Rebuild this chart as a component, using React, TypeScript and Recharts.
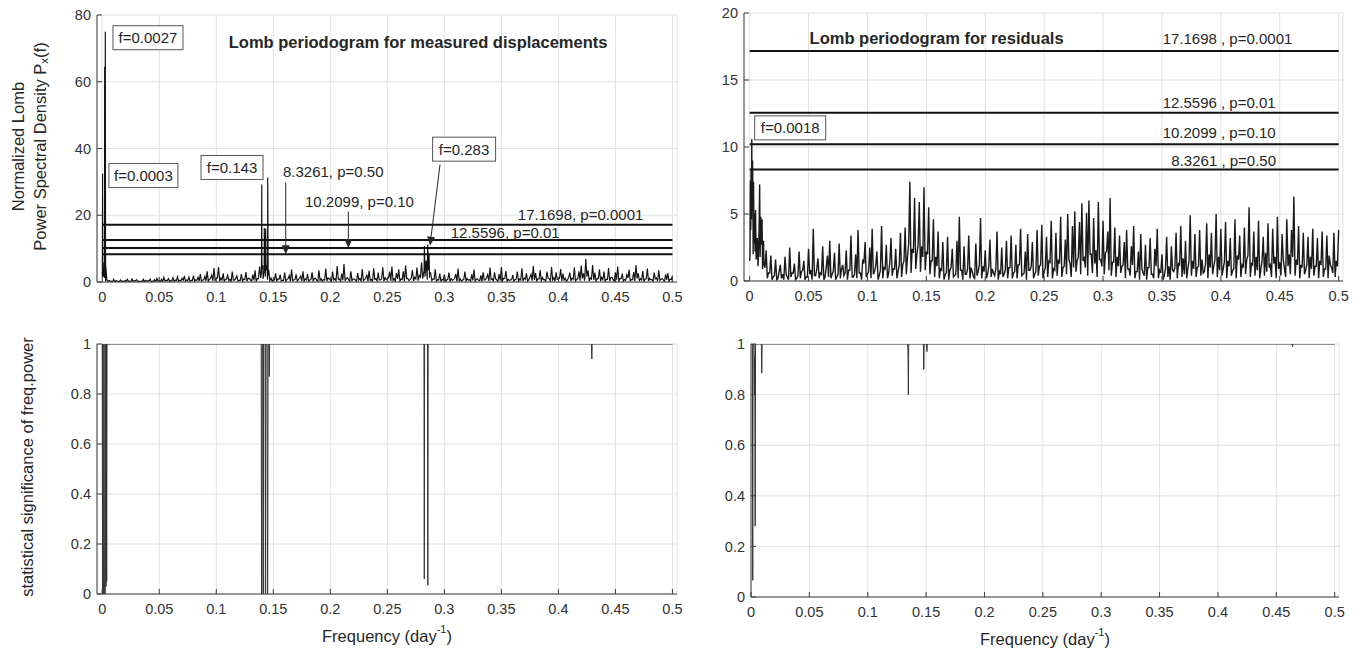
import React from 'react';
import { LineChart, Line, XAxis, YAxis, CartesianGrid, ReferenceLine, ReferenceDot } from 'recharts';

const FONT = '"Liberation Sans", Arial, Helvetica, sans-serif';
const AXIS_COLOR = '#3d3d3d';
const GRID_COLOR = '#e2e2e2';
const TEXT_COLOR = '#262626';

// ---------- axis ticks ----------
const freqTicks = [0, 0.05, 0.1, 0.15, 0.2, 0.25, 0.3, 0.35, 0.4, 0.45, 0.5];
const powerTicksMeasured = [0, 20, 40, 60, 80];
const powerTicksResidual = [0, 5, 10, 15, 20];
const sigTicks = [0, 0.2, 0.4, 0.6, 0.8, 1];

// ---------- spectra: values on grid f = 0.002*i, and midpoints f = 0.001 + 0.002*i ----------
const GRID_STEP = 0.002;
const measuredNoise = [
  3.0, 1.2, 0.7, 0.5, 0.3, 0.8, 0.4, 0.2, 0.6, 0.3,
  0.5, 0.8, 0.3, 0.9, 0.4, 0.7, 0.3, 0.2, 0.8, 0.5,
  0.4, 0.9, 0.3, 0.7, 1.1, 0.4, 0.8, 1.4, 0.5, 1.0,
  0.4, 1.3, 0.6, 1.6, 0.5, 1.1, 1.8, 0.6, 1.5, 0.5,
  1.9, 0.7, 1.4, 2.4, 0.6, 1.7, 3.2, 0.8, 2.1, 4.2,
  0.9, 4.5, 1.2, 2.6, 0.7, 2.0, 0.8, 3.1, 0.6, 1.9,
  0.5, 2.4, 0.9, 3.0, 1.1, 0.6, 2.2, 3.5, 1.0, 4.6,
  5.5, 2.8, 4.9, 3.6, 1.2, 0.7, 2.6, 0.9, 2.2, 0.5,
  2.8, 0.8, 1.9, 3.7, 0.6, 2.3, 0.7, 1.8, 3.2, 0.9,
  2.4, 0.6, 2.9, 1.1, 0.5, 3.5, 1.0, 0.7, 4.0, 1.2,
  0.8, 3.1, 1.0, 4.8, 0.9, 2.5, 5.4, 1.1, 0.7, 3.2,
  0.9, 0.6, 2.7, 1.0, 3.9, 0.7, 2.2, 3.4, 0.8, 4.1,
  1.0, 2.8, 0.6, 4.4, 1.3, 0.8, 3.1, 4.6, 1.0, 2.7,
  3.8, 0.9, 3.2, 4.9, 1.1, 0.7, 3.6, 1.4, 4.3, 2.0,
  5.9, 3.0, 6.4, 4.1, 2.7, 0.9, 3.8, 0.7, 2.5, 0.8,
  2.2, 0.6, 2.8, 1.0, 0.7, 2.4, 4.0, 0.9, 0.6, 3.1,
  1.1, 0.7, 2.3, 3.7, 0.8, 0.5, 2.0, 2.9, 0.7, 2.2,
  4.3, 1.0, 2.9, 0.6, 2.4, 4.5, 1.1, 3.3, 0.8, 0.6,
  2.1, 0.7, 3.1, 0.9, 4.1, 1.2, 2.6, 0.7, 2.3, 4.8,
  2.7, 1.0, 3.6, 1.4, 0.7, 3.1, 1.0, 4.5, 1.3, 2.9,
  0.8, 3.9, 2.5, 1.1, 0.6, 2.8, 1.2, 4.3, 0.9, 3.2,
  4.9, 2.6, 6.9, 3.5, 1.2, 5.1, 2.8, 1.0, 3.8, 1.4,
  3.1, 0.8, 4.2, 1.3, 0.7, 2.9, 4.6, 1.0, 2.5, 0.8,
  2.2, 3.7, 0.7, 3.0, 5.1, 2.6, 1.0, 3.3, 0.9, 4.0,
  1.1, 0.7, 2.8, 1.2, 3.5, 0.8, 0.6, 2.3, 2.7, 0.9,
  1.9,
];
const measuredMid = [
  2.0, 0.2, 0.1, 0.2, 0.1, 0.1, 0.3, 0.1, 0.2, 0.1,
  0.1, 0.2, 0.1, 0.2, 0.3, 0.1, 0.1, 0.2, 0.1, 0.2,
  0.3, 0.1, 0.2, 0.1, 0.3, 0.2, 0.1, 0.3, 0.4, 0.2,
  0.3, 0.1, 0.4, 0.2, 0.3, 0.5, 0.2, 0.4, 0.2, 0.5,
  0.2, 0.5, 0.3, 0.2, 0.6, 0.3, 0.2, 1.1, 0.3, 0.5,
  1.3, 0.2, 0.6, 0.2, 0.9, 0.4, 0.2, 0.5, 1.0, 0.3,
  0.5, 0.2, 0.7, 0.2, 1.1, 0.3, 0.5, 0.2, 1.0, 1.2,
  0.9, 1.6, 0.7, 0.4, 0.2, 0.6, 0.2, 0.8, 0.3, 0.5,
  0.2, 1.0, 0.2, 0.4, 0.7, 0.2, 1.2, 0.3, 0.2, 0.6,
  0.2, 0.7, 0.3, 1.1, 0.2, 0.5, 0.2, 0.6, 0.3, 0.9,
  0.2, 0.6, 0.3, 0.8, 0.2, 0.5, 0.3, 1.3, 0.2, 0.4,
  0.9, 0.2, 0.6, 0.3, 0.4, 1.1, 0.2, 0.5, 0.2, 0.8,
  0.3, 0.6, 1.0, 0.2, 0.7, 1.3, 0.3, 0.5, 0.2, 0.9,
  0.3, 0.7, 0.2, 1.0, 0.4, 1.2, 0.3, 0.9, 0.4, 1.5,
  1.0, 1.6, 0.7, 1.3, 0.4, 0.8, 0.2, 0.6, 0.2, 0.6,
  0.3, 0.8, 0.2, 0.5, 1.1, 0.2, 0.4, 0.2, 0.7, 0.3,
  0.6, 0.2, 0.5, 0.2, 1.0, 0.4, 0.2, 0.6, 1.3, 0.3,
  0.7, 0.3, 0.9, 0.2, 0.5, 0.4, 1.1, 0.2, 0.5, 0.7,
  0.2, 0.9, 0.2, 0.6, 0.3, 0.8, 0.2, 1.4, 0.4, 0.6,
  0.3, 0.9, 0.2, 0.7, 0.2, 1.1, 0.3, 0.6, 0.2, 0.8,
  1.2, 0.3, 0.6, 0.2, 1.4, 0.3, 0.8, 0.2, 0.9, 0.4,
  1.1, 0.4, 1.6, 0.3, 0.9, 0.6, 0.2, 1.0, 0.3, 0.7,
  0.2, 0.8, 0.3, 1.3, 0.2, 0.7, 0.3, 1.0, 0.2, 0.5,
  1.2, 0.3, 0.7, 0.2, 1.1, 0.4, 0.6, 0.2, 0.9, 0.3,
  0.7, 0.2, 0.9, 0.3, 0.5, 1.0, 0.2, 0.6, 0.2, 0.7,
];
const measuredPeakFreq = [
  0.0001, 0.0003, 0.0005, 0.0009, 0.0013, 0.0017, 0.0021, 0.0023, 0.0025, 0.0027, 0.0029, 0.0032, 0.0036,
  0.1396, 0.1399, 0.1402, 0.1408, 0.1418, 0.1421, 0.1425, 0.1430, 0.1433, 0.1437, 0.1445, 0.1451, 0.1455,
  0.2822, 0.2825, 0.2829, 0.2850, 0.2855, 0.2859, 0.2866, 0.2870,
];
const measuredPeakPower = [
  1.5, 32.5, 2.0, 3.5, 1.8, 6.0, 64.5, 8.0, 30.0, 75.0, 12.0, 4.5, 2.5,
  3.0, 29.2, 4.0, 5.0, 3.2, 16.2, 5.5, 4.0, 16.0, 3.5, 4.2, 31.3, 2.0,
  3.0, 10.8, 4.0, 5.0, 11.2, 3.5, 8.5, 3.0,
];

const residualNoise = [
  1.5, 6.5, 3.5, 2.5, 3.8, 2.7, 1.4, 2.3, 0.6, 1.9,
  0.3, 1.6, 0.2, 1.2, 0.5, 1.8, 0.3, 2.5, 0.6, 1.3,
  0.2, 2.2, 0.7, 1.5, 0.3, 2.4, 0.8, 3.9, 0.4, 1.7,
  0.6, 2.6, 0.3, 1.9, 3.0, 0.5, 2.1, 0.3, 2.8, 0.9,
  0.4, 2.3, 0.8, 3.4, 0.3, 2.0, 3.8, 0.6, 1.6, 2.9,
  0.5, 2.5, 3.9, 0.7, 2.2, 0.4, 4.1, 1.0, 2.7, 0.6,
  3.2, 0.9, 2.4, 0.7, 3.6, 1.2, 4.0, 1.8, 7.4, 2.4,
  6.2, 2.0, 5.9, 2.6, 7.0, 2.2, 5.5, 1.5, 4.6, 1.8,
  3.7, 0.9, 2.9, 0.5, 3.3, 0.8, 2.4, 0.4, 3.0, 4.8,
  0.8, 2.6, 0.5, 3.4, 1.0, 0.3, 2.8, 0.7, 4.7, 1.1,
  2.3, 0.5, 3.1, 0.9, 0.4, 3.7, 0.7, 2.5, 0.5, 3.0,
  1.0, 3.4, 0.6, 2.7, 1.2, 3.9, 0.5, 2.2, 3.5, 0.8,
  2.9, 0.5, 3.8, 1.1, 4.2, 0.7, 3.3, 1.5, 4.5, 0.9,
  3.6, 1.6, 4.8, 1.0, 3.1, 5.0, 1.3, 4.1, 5.2, 1.5,
  4.4, 5.8, 1.7, 5.1, 6.0, 2.0, 4.7, 2.3, 5.9, 1.6,
  4.5, 2.1, 3.7, 6.2, 1.4, 4.0, 1.8, 3.4, 1.1, 2.9,
  3.8, 0.9, 2.6, 4.1, 0.7, 2.2, 3.5, 0.6, 2.7, 1.0,
  3.2, 0.5, 2.4, 3.9, 0.8, 2.0, 0.4, 3.3, 1.1, 2.6,
  0.7, 3.6, 1.3, 4.1, 1.7, 3.0, 0.9, 4.9, 1.5, 3.5,
  1.0, 3.8, 1.6, 0.7, 4.3, 2.0, 3.6, 1.1, 5.0, 1.8,
  3.9, 0.9, 4.4, 1.5, 3.2, 0.8, 4.6, 1.9, 3.4, 1.2,
  4.0, 1.6, 5.5, 1.3, 3.7, 1.8, 4.5, 0.9, 3.3, 2.1,
  4.3, 1.2, 3.9, 1.8, 4.8, 1.4, 3.5, 0.9, 4.6, 2.0,
  3.8, 6.3, 1.6, 4.1, 1.2, 3.6, 0.8, 3.3, 1.8, 3.9,
  1.1, 3.2, 1.5, 3.7, 0.9, 3.4, 1.9, 1.0, 3.6, 1.5,
  3.8,
];
const residualMid = [
  4.2, 2.0, 5.3, 1.5, 3.1, 0.9, 1.0, 0.2, 0.6, 0.1,
  0.4, 0.1, 0.7, 0.2, 0.1, 0.5, 0.1, 0.3, 0.6, 0.1,
  0.4, 0.2, 0.8, 0.1, 0.3, 0.5, 0.1, 0.4, 0.9, 0.2,
  0.5, 0.1, 1.0, 0.3, 0.2, 0.7, 0.1, 0.5, 0.2, 1.2,
  0.6, 0.1, 0.8, 0.3, 0.5, 0.2, 0.6, 0.1, 1.3, 0.3,
  0.7, 0.2, 0.5, 1.1, 0.1, 0.8, 0.2, 0.9, 0.2, 1.4,
  0.4, 0.9, 0.2, 1.2, 0.3, 1.5, 0.5, 2.8, 0.6, 2.1,
  0.9, 2.7, 0.7, 1.8, 0.8, 2.0, 0.5, 1.5, 0.3, 1.1,
  0.2, 0.8, 0.1, 0.6, 0.1, 1.0, 0.3, 0.5, 0.2, 0.8,
  0.1, 0.5, 0.9, 0.2, 0.7, 0.2, 0.4, 1.2, 0.2, 0.7,
  0.2, 1.1, 0.3, 0.6, 0.9, 0.1, 0.5, 0.3, 0.8, 0.2,
  1.0, 0.2, 0.7, 0.2, 1.2, 0.4, 0.6, 0.1, 0.8, 1.1,
  0.2, 0.7, 0.4, 1.2, 0.2, 1.0, 0.3, 1.4, 0.2, 0.8,
  0.4, 1.3, 0.3, 1.1, 0.5, 1.6, 0.3, 1.0, 0.7, 1.8,
  0.5, 1.5, 1.0, 0.4, 2.0, 0.6, 1.3, 0.3, 1.6, 1.1,
  0.5, 2.2, 0.8, 0.4, 1.4, 0.3, 1.1, 0.6, 1.2, 0.2,
  0.9, 0.4, 1.2, 0.2, 0.7, 0.1, 0.9, 0.4, 0.1, 1.0,
  0.5, 0.2, 1.1, 0.2, 0.6, 0.1, 0.9, 0.3, 0.1, 0.8,
  1.0, 0.2, 1.2, 0.3, 0.5, 0.2, 1.5, 0.4, 0.9, 0.3,
  1.1, 0.4, 0.6, 1.3, 0.2, 1.0, 0.5, 1.6, 0.3, 0.8,
  0.4, 1.4, 0.2, 1.1, 0.4, 0.9, 0.2, 1.6, 0.3, 1.0,
  0.5, 1.9, 0.3, 1.2, 0.4, 0.8, 0.2, 1.5, 0.4, 0.7,
  1.0, 0.3, 1.3, 0.2, 0.9, 0.4, 1.6, 0.3, 1.1, 0.5,
  1.8, 0.4, 1.2, 0.2, 1.0, 0.5, 1.2, 0.2, 0.9, 0.4,
  1.1, 0.2, 1.2, 0.3, 0.9, 0.2, 1.2, 0.6, 0.3, 1.1,
];
const residualPeakFreq = [
  0.0003, 0.0006, 0.0009, 0.0012, 0.0015, 0.0018, 0.0021, 0.0025, 0.0029, 0.0033, 0.0037, 0.0042,
  0.0046, 0.0051, 0.0055, 0.0065, 0.0071, 0.0077, 0.0085, 0.0089, 0.0095, 0.0105, 0.0112, 0.0118,
];
const residualPeakPower = [
  2.0, 7.5, 3.8, 8.3, 4.6, 10.6, 5.2, 9.0, 3.9, 7.4, 2.8, 5.0,
  2.2, 4.4, 1.6, 3.2, 1.1, 2.6, 7.2, 1.8, 4.8, 4.6, 1.2, 3.0,
];

// ---------- false-alarm thresholds ----------
const thresholdPower = [17.1698, 12.5596, 10.2099, 8.3261];
const thresholdProb = ['0.0001', '0.01', '0.10', '0.50'];

// ---------- statistical significance ----------
const sigMeasuredFreq = [
  0, 0.0003, 0.0006, 0.0009, 0.0013, 0.0016, 0.0019, 0.0023, 0.0027, 0.003, 0.0033, 0.0036, 0.0039, 0.0042,
  0.1394, 0.1397, 0.14, 0.1403, 0.1409, 0.1412, 0.1415, 0.1428, 0.1431, 0.1434, 0.1445, 0.1448, 0.1451, 0.1454,
  0.1462, 0.1465, 0.1468, 0.2821, 0.2824, 0.2827, 0.2852, 0.2855, 0.2858, 0.429, 0.4293, 0.4296, 0.5,
];
const sigMeasuredValue = [
  1, 0, 1, 0, 0, 1, 0, 0, 0, 1, 0.03, 1, 0.05, 1,
  1, 0, 0, 1, 1, 0, 1, 1, 0, 1, 1, 0, 0, 1,
  1, 0.87, 1, 1, 0.06, 1, 1, 0.035, 1, 1, 0.94, 1, 1,
];
const sigResidualFreq = [
  0, 0.0012, 0.0015, 0.0018, 0.0027, 0.003, 0.0033, 0.0036, 0.0039, 0.0089, 0.0092, 0.0095,
  0.1342, 0.1345, 0.1348, 0.1351, 0.1477, 0.148, 0.1483, 0.1504, 0.1507, 0.151, 0.4636, 0.4639, 0.4642, 0.5,
];
const sigResidualValue = [
  1, 1, 0.066, 1, 1, 0.8, 0.95, 0.28, 1, 1, 0.885, 1,
  1, 0.96, 0.8, 1, 1, 0.9, 1, 1, 0.97, 1, 1, 0.99, 1, 1,
];

// ---------- build chart tables ----------
function buildSpectrum(grid: number[], mid: number[], pf: number[], pv: number[]) {
  const pts = grid.map((p, i) => ({ f: Math.round(i * GRID_STEP * 10000) / 10000, p }));
  mid.forEach((p, i) => pts.push({ f: Math.round((i * GRID_STEP + GRID_STEP / 2) * 10000) / 10000, p }));
  pf.forEach((f, i) => pts.push({ f, p: pv[i] }));
  pts.sort((a, b) => a.f - b.f);
  return pts;
}
function buildPairs(fs: number[], vs: number[]) {
  return fs.map((f, i) => ({ f, s: vs[i] }));
}
const measuredData = buildSpectrum(measuredNoise, measuredMid, measuredPeakFreq, measuredPeakPower);
const residualData = buildSpectrum(residualNoise, residualMid, residualPeakFreq, residualPeakPower);
const sigMeasuredData = buildPairs(sigMeasuredFreq, sigMeasuredValue);
const sigResidualData = buildPairs(sigResidualFreq, sigResidualValue);

// ---------- annotations (data coordinates) ----------
const measuredBoxes = [
  { f: 0.0401, v: 73.2, text: 'f=0.0027', w: 70 },
  { f: 0.0361, v: 31.9, text: 'f=0.0003', w: 69 },
  { f: 0.1138, v: 34.3, text: 'f=0.143', w: 62 },
  { f: 0.3173, v: 39.8, text: 'f=0.283', w: 63 },
];
const measuredTextPos = [
  { f: 0.3644, v: 20.2 },
  { f: 0.3056, v: 14.8 },
  { f: 0.1778, v: 24.1 },
  { f: 0.1585, v: 33.1 },
];
const measuredArrows = [
  { f1: 0.1609, v1: 29.8, f2: 0.1609, v2: 8.33 },
  { f1: 0.2158, v1: 21.1, f2: 0.2158, v2: 10.21 },
  { f1: 0.2962, v1: 35.2, f2: 0.2874, v2: 10.9 },
];
const residualTextPos = [
  { f: 0.3506, v: 18.09 },
  { f: 0.3506, v: 13.35 },
  { f: 0.3506, v: 11.05 },
  { f: 0.358, v: 9.02 },
];
const residualBoxes = [{ f: 0.0344, v: 11.43, text: 'f=0.0018', w: 71 }];

// ---------- shapes ----------
const tickStyle = { fill: '#333', fontSize: 14.5, fontFamily: FONT };

const makeText = (text: string, anchor: 'start' | 'middle' | 'end', bold = false, size = 15) =>
  (props: any) => (
    <text x={props.cx} y={props.cy} textAnchor={anchor} dominantBaseline="central"
      fontFamily={FONT} fontSize={size} fontWeight={bold ? 'bold' : 'normal'} fill={TEXT_COLOR}>
      {text}
    </text>
  );

const makeBox = (text: string, w: number) => (props: any) => (
  <g>
    <rect x={props.cx - w / 2} y={props.cy - 12} width={w} height={24} fill="#fff" stroke="#555" strokeWidth={1} />
    <text x={props.cx} y={props.cy} textAnchor="middle" dominantBaseline="central"
      fontFamily={FONT} fontSize={15} fill={TEXT_COLOR}>{text}</text>
  </g>
);

const ArrowShape = (props: any) => {
  const { x1, y1, x2, y2 } = props;
  const ang = Math.atan2(y2 - y1, x2 - x1);
  const len = 9;
  const half = 4;
  const bx = x2 - len * Math.cos(ang);
  const by = y2 - len * Math.sin(ang);
  const px = -Math.sin(ang) * half;
  const py = Math.cos(ang) * half;
  return (
    <g>
      <line x1={x1} y1={y1} x2={bx} y2={by} stroke={TEXT_COLOR} strokeWidth={1} />
      <polygon points={`${x2},${y2} ${bx + px},${by + py} ${bx - px},${by - py}`} fill={TEXT_COLOR} />
    </g>
  );
};

const MeasuredYLabel = (props: any) => {
  const vb = props.viewBox || { x: 0, y: 15, width: 97, height: 267 };
  const cy = vb.y + vb.height / 2 - 2;
  return (
    <g fontFamily={FONT} fontSize={16.5} fill={TEXT_COLOR}>
      <text transform={`translate(${vb.x + 18}, ${cy}) rotate(-90)`} textAnchor="middle" dominantBaseline="central">
        Normalized Lomb
      </text>
      <text transform={`translate(${vb.x + 40}, ${cy}) rotate(-90)`} textAnchor="middle" dominantBaseline="central">
        Power Spectral Density P<tspan dy={4} fontSize={11.5}>x</tspan><tspan dy={-4}>(f)</tspan>
      </text>
    </g>
  );
};

const SigYLabel = (props: any) => {
  const vb = props.viewBox || { x: 0, y: 344, width: 97, height: 250 };
  const cy = vb.y + vb.height / 2 - 2;
  return (
    <text transform={`translate(${vb.x + 27}, ${cy}) rotate(-90)`} textAnchor="middle" dominantBaseline="central"
      fontFamily={FONT} fontSize={16.5} fill={TEXT_COLOR}>
      statistical significance of freq.power
    </text>
  );
};

const FreqLabel = (props: any) => {
  const vb = props.viewBox || { x: 0, y: 0, width: 0, height: 0 };
  const cx = vb.x + vb.width / 2;
  return (
    <text x={cx} y={vb.y + 42} textAnchor="middle" dominantBaseline="central"
      fontFamily={FONT} fontSize={16.5} fill={TEXT_COLOR}>
      Frequency (day<tspan dy={-7} fontSize={11}>-1</tspan><tspan dy={7}>)</tspan>
    </text>
  );
};

// ---------- frame helpers ----------
function frameAxes(xDomain: number[], yDomain: number[], yTicks: number[], yWidth: number, xHeight: number, yLabel?: any, xLabel?: any) {
  return [
    <CartesianGrid key="grid" stroke={GRID_COLOR} strokeWidth={1} />,
    <XAxis key="xb" dataKey="f" type="number" domain={xDomain} ticks={freqTicks} interval={0}
      allowDataOverflow height={xHeight} tickSize={-5} tickMargin={15} stroke={AXIS_COLOR}
      tick={tickStyle} label={xLabel} />,
    <XAxis key="xt" xAxisId="top" orientation="top" dataKey="f" type="number" domain={xDomain}
      ticks={freqTicks} interval={0} allowDataOverflow height={0} tickSize={-5} tick={false} stroke={AXIS_COLOR} />,
    <YAxis key="yl" type="number" domain={yDomain} ticks={yTicks} interval={0} allowDataOverflow
      width={yWidth} tickSize={-5} tickMargin={11} stroke={AXIS_COLOR} tick={tickStyle} label={yLabel} />,
    <YAxis key="yr" yAxisId="right" orientation="right" type="number" domain={yDomain} ticks={yTicks}
      interval={0} allowDataOverflow width={0} tickSize={-5} tick={false} stroke={AXIS_COLOR} />,
  ];
}

const MEASURED_X = [-0.0046, 0.504];
const RESIDUAL_X = [-0.0048, 0.5037];
const SIG_RES_X = [0, 0.5037];

export default function App() {
  return (
    <div style={{ position: 'relative', width: 1360, height: 651, overflow: 'hidden', background: '#fff', fontFamily: FONT }}>
      <style>{'body{margin:0;background:#fff;}'}</style>

      {/* top-left: measured displacements */}
      <div style={{ position: 'absolute', left: 0, top: 0 }}>
        <LineChart width={690} height={320} data={measuredData} margin={{ top: 15, right: 13, bottom: 0, left: 0 }}>
          {frameAxes(MEASURED_X, [0, 80], powerTicksMeasured, 97, 38, MeasuredYLabel)}
          <Line type="linear" dataKey="p" stroke="#111" strokeWidth={1.15} dot={false} isAnimationActive={false} />
          {thresholdPower.map((v) => (
            <ReferenceLine key={'th' + v} segment={[{ x: 0, y: v }, { x: 0.5, y: v }]} stroke="#111" strokeWidth={2} />
          ))}
          {measuredArrows.map((a, i) => (
            <ReferenceLine key={'ar' + i} segment={[{ x: a.f1, y: a.v1 }, { x: a.f2, y: a.v2 }]} shape={ArrowShape} />
          ))}
          {measuredBoxes.map((b) => (
            <ReferenceDot key={b.text} x={b.f} y={b.v} r={0} shape={makeBox(b.text, b.w)} />
          ))}
          {thresholdPower.map((v, i) => (
            <ReferenceDot key={'tt' + v} x={measuredTextPos[i].f} y={measuredTextPos[i].v} r={0}
              shape={makeText(`${v}, p=${thresholdProb[i]}`, 'start')} />
          ))}
          <ReferenceDot x={0.277} y={72} r={0} shape={makeText('Lomb periodogram for measured displacements', 'middle', true, 16.5)} />
        </LineChart>
      </div>

      {/* top-right: residuals */}
      <div style={{ position: 'absolute', left: 680, top: 0 }}>
        <LineChart width={675} height={320} data={residualData} margin={{ top: 13, right: 12, bottom: 0, left: 0 }}>
          {frameAxes(RESIDUAL_X, [0, 20], powerTicksResidual, 64, 39)}
          <Line type="linear" dataKey="p" stroke="#1a1a1a" strokeWidth={1.4} dot={false} isAnimationActive={false} />
          {thresholdPower.map((v) => (
            <ReferenceLine key={'th' + v} segment={[{ x: 0, y: v }, { x: 0.5, y: v }]} stroke="#111" strokeWidth={2} />
          ))}
          {residualBoxes.map((b) => (
            <ReferenceDot key={b.text} x={b.f} y={b.v} r={0} shape={makeBox(b.text, b.w)} />
          ))}
          {thresholdPower.map((v, i) => (
            <ReferenceDot key={'tt' + v} x={residualTextPos[i].f} y={residualTextPos[i].v} r={0}
              shape={makeText(`${v} , p=${thresholdProb[i]}`, 'start')} />
          ))}
          <ReferenceDot x={0.1587} y={18.16} r={0} shape={makeText('Lomb periodogram for residuals', 'middle', true, 16.5)} />
        </LineChart>
      </div>

      {/* bottom-left: significance, measured */}
      <div style={{ position: 'absolute', left: 0, top: 330 }}>
        <LineChart width={690} height={321} data={sigMeasuredData} margin={{ top: 14, right: 13, bottom: 0, left: 0 }}>
          {frameAxes(MEASURED_X, [0, 1], sigTicks, 97, 57, SigYLabel, FreqLabel)}
          <Line type="linear" dataKey="s" stroke="#333" strokeWidth={1} dot={false} isAnimationActive={false} />
        </LineChart>
      </div>

      {/* bottom-right: significance, residuals */}
      <div style={{ position: 'absolute', left: 680, top: 330 }}>
        <LineChart width={675} height={321} data={sigResidualData} margin={{ top: 14, right: 16, bottom: 0, left: 0 }}>
          {frameAxes(SIG_RES_X, [0, 1], sigTicks, 71, 54, undefined, FreqLabel)}
          <Line type="linear" dataKey="s" stroke="#333" strokeWidth={1} dot={false} isAnimationActive={false} />
        </LineChart>
      </div>
    </div>
  );
}
